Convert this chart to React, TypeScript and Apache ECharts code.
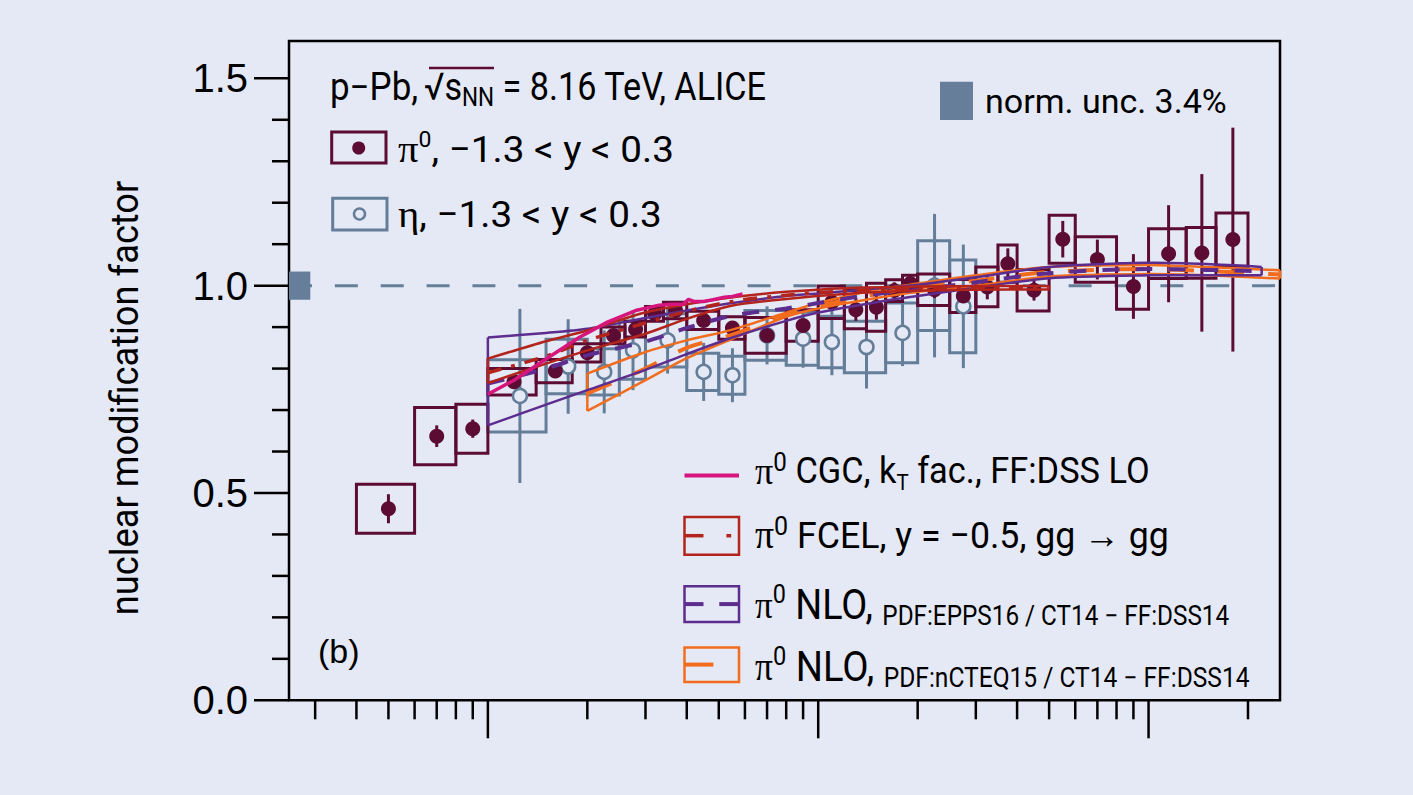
import React, { useEffect, useRef } from "react";
import * as echarts from "echarts";

// ---------- data ----------
const pi0Pt = [0.5, 0.7, 0.9, 1.2, 1.6, 2.0, 2.4, 2.8, 3.2, 3.7, 4.5, 5.5, 7, 9, 11, 13, 15, 17, 19, 22.5, 27.5, 32.5, 37.5, 45, 55, 70, 90, 115, 145, 180];
const pi0PtLow = [0.4, 0.6, 0.8, 1.0, 1.4, 1.8, 2.2, 2.6, 3.0, 3.4, 4, 5, 6, 8, 10, 12, 14, 16, 18, 20, 25, 30, 35, 40, 50, 60, 80, 100, 130, 160];
const pi0PtHigh = [0.6, 0.8, 1.0, 1.4, 1.8, 2.2, 2.6, 3.0, 3.4, 4, 5, 6, 8, 10, 12, 14, 16, 18, 20, 25, 30, 35, 40, 50, 60, 80, 100, 130, 160, 200];
const pi0RpPb = [0.462, 0.637, 0.655, 0.768, 0.794, 0.838, 0.88, 0.895, 0.932, 0.94, 0.916, 0.898, 0.88, 0.904, 0.96, 0.942, 0.948, 0.988, 1.005, 0.99, 0.975, 0.997, 1.053, 0.989, 1.112, 1.063, 0.998, 1.077, 1.079, 1.111];
const pi0Stat = [0.035, 0.026, 0.022, 0.008, 0.008, 0.008, 0.008, 0.008, 0.008, 0.008, 0.009, 0.01, 0.012, 0.014, 0.016, 0.027, 0.03, 0.02, 0.02, 0.02, 0.022, 0.03, 0.037, 0.025, 0.044, 0.048, 0.078, 0.117, 0.19, 0.27];
const pi0Sys = [0.059, 0.069, 0.059, 0.032, 0.028, 0.022, 0.02, 0.019, 0.018, 0.02, 0.022, 0.027, 0.043, 0.038, 0.039, 0.046, 0.058, 0.026, 0.02, 0.038, 0.04, 0.048, 0.045, 0.05, 0.058, 0.055, 0.055, 0.06, 0.061, 0.064];

const etaPt = [1.25, 1.75, 2.25, 2.75, 3.5, 4.5, 5.5, 7, 9, 11, 14, 18, 22.5, 27.5];
const etaPtLow = [1.0, 1.5, 2.0, 2.5, 3.0, 4, 5, 6, 8, 10, 12, 16, 20, 25];
const etaPtHigh = [1.5, 2.0, 2.5, 3.0, 4.0, 5, 6, 8, 10, 12, 16, 20, 25, 30];
const etaRpPb = [0.734, 0.805, 0.792, 0.844, 0.868, 0.792, 0.784, 0.88, 0.872, 0.864, 0.852, 0.886, 1.0, 0.95];
const etaStat = [0.21, 0.114, 0.1, 0.096, 0.08, 0.07, 0.065, 0.07, 0.07, 0.08, 0.1, 0.08, 0.173, 0.149];
const etaSys = [0.087, 0.066, 0.056, 0.07, 0.064, 0.045, 0.046, 0.06, 0.064, 0.062, 0.062, 0.072, 0.108, 0.112];

const cgcPt = [1.0, 1.2, 1.5, 1.9, 2.3, 2.8, 3.3, 3.6, 3.9, 4.05, 4.2, 4.5, 4.8, 5.2, 5.5, 5.9];
const cgcVal = [0.738, 0.772, 0.823, 0.876, 0.912, 0.94, 0.953, 0.955, 0.955, 0.967, 0.962, 0.962, 0.966, 0.972, 0.974, 0.98];

const fcelPt = [1.0, 1.5, 2.0, 3.0, 4.0, 5.5, 8, 12, 20, 30, 50];
const fcelHigh = [0.824, 0.866, 0.892, 0.936, 0.955, 0.972, 0.985, 0.994, 0.998, 0.999, 0.999];
const fcelLow = [0.765, 0.812, 0.844, 0.884, 0.92, 0.952, 0.968, 0.98, 0.988, 0.99, 0.991];
const fcelMid = [0.79, 0.83, 0.868, 0.91, 0.938, 0.962, 0.977, 0.987, 0.993, 0.994, 0.995];

const eppsPt = [1.0, 1.5, 2.0, 3.0, 4.0, 5.5, 8, 10, 15, 20, 30, 50, 100, 150, 220];
const eppsHigh = [0.875, 0.886, 0.896, 0.922, 0.94, 0.958, 0.975, 0.981, 0.993, 1.002, 1.02, 1.045, 1.055, 1.052, 1.045];
const eppsLow = [0.663, 0.713, 0.748, 0.797, 0.835, 0.875, 0.915, 0.935, 0.96, 0.975, 0.995, 1.018, 1.025, 1.025, 1.025];
const eppsMid = [0.764, 0.8, 0.832, 0.865, 0.898, 0.928, 0.945, 0.958, 0.98, 0.99, 1.008, 1.03, 1.04, 1.038, 1.035];

const ncteqPt = [2.0, 3.0, 4.0, 5.5, 8, 10, 15, 20, 30, 50, 100, 150, 250];
const ncteqHigh = [0.788, 0.84, 0.868, 0.894, 0.935, 0.958, 0.99, 1.005, 1.025, 1.045, 1.05, 1.045, 1.037];
const ncteqLow = [0.698, 0.772, 0.825, 0.872, 0.925, 0.945, 0.97, 0.985, 1.0, 1.022, 1.028, 1.025, 1.017];
const ncteqMid = [0.74, 0.8, 0.85, 0.882, 0.93, 0.951, 0.98, 0.995, 1.012, 1.033, 1.04, 1.035, 1.027];

const normUnc = 0.034;
const normBoxPt = [0.25, 0.29];
const unityPt = [0.25, 250];

const xMajorTicks = [1, 10, 100];
const xMinorTicks = [0.3, 0.4, 0.5, 0.6, 0.7, 0.8, 0.9, 2, 3, 4, 5, 6, 7, 8, 9, 20, 30, 40, 50, 60, 70, 80, 90, 200];
const yMajorTicks = [0, 0.5, 1.0, 1.5];
const yMinorTicks = [0.1, 0.2, 0.3, 0.4, 0.6, 0.7, 0.8, 0.9, 1.1, 1.2, 1.3, 1.4];

// ---------- styles ----------
const BG = "#e5e9f5";
const MAROON = "#5c0c33";
const GRAY = "#647e99";
const MAGENTA = "#d6157d";
const RED = "#b3241c";
const PURPLE = "#5d2c8f";
const ORANGE = "#f26c1e";
const NORM = "#677e9a";
const F = "Roboto, sans-serif";
const FG = "'Liberation Serif', 'DejaVu Serif', serif";
const FA = "'Liberation Sans', Arial, sans-serif";

function boxSeries(lo: number[], hi: number[], val: number[], sys: number[], color: string, z: number) {
  return {
    type: "custom", silent: true, z, clip: false,
    encode: { x: [0, 1], y: 2 },
    data: lo.map((l, i) => [l, hi[i], val[i], sys[i]]),
    renderItem: (_p: any, api: any) => {
      const a = api.coord([api.value(0), api.value(2) + api.value(3)]);
      const b = api.coord([api.value(1), api.value(2) - api.value(3)]);
      return { type: "rect", shape: { x: a[0], y: a[1], width: b[0] - a[0], height: b[1] - a[1] }, style: { fill: "none", stroke: color, lineWidth: 3 } };
    },
  };
}

function barSeries(pt: number[], val: number[], err: number[], color: string, z: number) {
  return {
    type: "custom", silent: true, z, clip: false,
    encode: { x: 0, y: 1 },
    data: pt.map((p, i) => [p, val[i], err[i]]),
    renderItem: (_p: any, api: any) => {
      const a = api.coord([api.value(0), api.value(1) + api.value(2)]);
      const b = api.coord([api.value(0), api.value(1) - api.value(2)]);
      return { type: "line", shape: { x1: a[0], y1: a[1], x2: b[0], y2: b[1] }, style: { stroke: color, lineWidth: 3 } };
    },
  };
}

function bandSeries(pt: number[], lo: number[], hi: number[], color: string, z: number) {
  return {
    type: "custom", silent: true, z, clip: false,
    encode: { x: 0, y: [1, 2] },
    data: pt.map((p, i) => [p, lo[i], hi[i]]),
    renderItem: (params: any, api: any) => {
      if (params.dataIndex !== 0) return null;
      const up = pt.map((p, i) => api.coord([p, hi[i]]));
      const dn = pt.map((p, i) => api.coord([p, lo[i]]));
      const st = { stroke: color, lineWidth: 2.5, fill: "none" };
      const n = pt.length - 1;
      return {
        type: "group",
        children: [
          { type: "polyline", shape: { points: up, smooth: 0.25 }, style: st },
          { type: "polyline", shape: { points: dn, smooth: 0.25 }, style: st },
          { type: "line", shape: { x1: up[0][0], y1: up[0][1], x2: dn[0][0], y2: dn[0][1] }, style: st },
          { type: "line", shape: { x1: up[n][0], y1: up[n][1], x2: dn[n][0], y2: dn[n][1] }, style: st },
        ],
      };
    },
  };
}

function lineSeries(pt: number[], val: number[], color: string, width: number, type: any, z: number, smooth: any) {
  return {
    type: "line", silent: true, z, symbol: "none", smooth,
    data: pt.map((p, i) => [p, val[i]]),
    lineStyle: { color, width, type, cap: "butt", opacity: 1 },
  };
}

function xTickSeries(ticks: number[], len: number) {
  return {
    type: "custom", silent: true, z: 20, clip: false,
    encode: { x: 0, y: 1 },
    data: ticks.map((t) => [t, 0]),
    renderItem: (_p: any, api: any) => {
      const p = api.coord([api.value(0), 0]);
      return { type: "line", shape: { x1: p[0], y1: p[1], x2: p[0], y2: p[1] + len }, style: { stroke: "#000", lineWidth: 2.5 } };
    },
  };
}

function yTickSeries(ticks: number[], len: number) {
  return {
    type: "custom", silent: true, z: 20, clip: false,
    encode: { x: 0, y: 1 },
    data: ticks.map((t) => [0.25, t]),
    renderItem: (_p: any, api: any) => {
      const p = api.coord([0.25, api.value(1)]);
      return { type: "line", shape: { x1: p[0] - len, y1: p[1], x2: p[0], y2: p[1] }, style: { stroke: "#000", lineWidth: 2.5 } };
    },
  };
}

const richTop = {
  t: { fontSize: 37, fontFamily: F, lineHeight: 42, fill: "#000", color: "#000" },
  g: { fontSize: 39, fontFamily: FG, lineHeight: 42, fill: "#000", color: "#000" },
  sup: { fontSize: 22, fontFamily: F, lineHeight: 32, verticalAlign: "top", fill: "#000", color: "#000" },
};
const richHead = {
  t: { fontSize: 38, fontFamily: F, lineHeight: 46, fill: "#000", color: "#000" },
  sub: { fontSize: 25, fontFamily: F, lineHeight: 14, verticalAlign: "bottom", fill: "#000", color: "#000" },
};
const richLeg = {
  t: { fontSize: 37, fontFamily: F, lineHeight: 44, fill: "#000", color: "#000" },
  T: { fontSize: 42, fontFamily: F, lineHeight: 48, fill: "#000", color: "#000" },
  g: { fontSize: 39, fontFamily: FG, lineHeight: 44, fill: "#000", color: "#000" },
  sup: { fontSize: 26, fontFamily: F, lineHeight: 34, verticalAlign: "top", fill: "#000", color: "#000" },
  sub: { fontSize: 22, fontFamily: F, lineHeight: 12, verticalAlign: "bottom", fill: "#000", color: "#000" },
  s: { fontSize: 27, fontFamily: F, lineHeight: 30, verticalAlign: "bottom", fill: "#000", color: "#000" },
};

function txt(x: number, y: number, text: string, rich: any, scaleX = 1) {
  return { type: "text", x, y, scaleX, z: 100, silent: true, style: { text, rich, textVerticalAlign: "middle", verticalAlign: "middle", fill: "#000" } };
}

export default function App() {
  const ref = useRef<HTMLDivElement>(null);
  useEffect(() => {
    const chart = echarts.init(ref.current!, null, { renderer: "svg", width: 1413, height: 795 });
    const option: any = {
      animation: false,
      backgroundColor: BG,
      grid: { left: 289, top: 41, right: 133, bottom: 94.7, show: true, borderColor: "#000", borderWidth: 2.5, containLabel: false },
      xAxis: {
        type: "log", logBase: 10, min: 0.25, max: 250,
        axisLine: { show: false }, axisTick: { show: false }, axisLabel: { show: false }, splitLine: { show: false }, minorTick: { show: false },
      },
      yAxis: {
        type: "value", min: 0, max: 1.59, interval: 0.5,
        axisLine: { show: false }, axisTick: { show: false }, splitLine: { show: false },
        axisLabel: {
          fontSize: 40, fontFamily: FA, color: "#000", margin: 41,
          formatter: (v: number) => (yMajorTicks.some((t) => Math.abs(t - v) < 1e-6) ? v.toFixed(1) : ""),
        },
      },
      series: [
        lineSeries(unityPt, [1, 1], "#667f99", 3, [23, 22.86], 1, false),
        {
          type: "custom", silent: true, z: 1, clip: false,
          encode: { x: [0, 1], y: 2 },
          data: [[normBoxPt[0], normBoxPt[1], 1, normUnc]],
          renderItem: (_p: any, api: any) => {
            const a = api.coord([api.value(0), api.value(2) + api.value(3)]);
            const b = api.coord([api.value(1), api.value(2) - api.value(3)]);
            return { type: "rect", shape: { x: a[0], y: a[1], width: b[0] - a[0], height: b[1] - a[1] }, style: { fill: NORM } };
          },
        },
        boxSeries(etaPtLow, etaPtHigh, etaRpPb, etaSys, GRAY, 2),
        barSeries(etaPt, etaRpPb, etaStat, GRAY, 2),
        {
          type: "scatter", silent: true, z: 3, symbol: "circle", symbolSize: 14,
          data: etaPt.map((p, i) => [p, etaRpPb[i]]),
          itemStyle: { color: BG, borderColor: GRAY, borderWidth: 2.5, opacity: 1 },
        },
        boxSeries(pi0PtLow, pi0PtHigh, pi0RpPb, pi0Sys, MAROON, 3),
        barSeries(pi0Pt, pi0RpPb, pi0Stat, MAROON, 3),
        {
          type: "scatter", silent: true, z: 4, symbol: "circle", symbolSize: 15,
          data: pi0Pt.map((p, i) => [p, pi0RpPb[i]]),
          itemStyle: { color: MAROON, opacity: 1 },
        },
        bandSeries(ncteqPt, ncteqLow, ncteqHigh, ORANGE, 5),
        lineSeries(ncteqPt, ncteqMid, ORANGE, 4, [26, 24], 5, 0.3),
        bandSeries(eppsPt, eppsLow, eppsHigh, PURPLE, 6),
        lineSeries(eppsPt, eppsMid, PURPLE, 4, [17, 16], 6, 0.3),
        bandSeries(fcelPt, fcelLow, fcelHigh, RED, 7),
        lineSeries(fcelPt, fcelMid, RED, 3.5, [14, 10, 4, 10], 7, 0.3),
        lineSeries(cgcPt, cgcVal, MAGENTA, 3.5, "solid", 8, false),
        xTickSeries(xMajorTicks, 38),
        xTickSeries(xMinorTicks, 19),
        yTickSeries(yMajorTicks, 35),
        yTickSeries(yMinorTicks, 17),
      ],
      graphic: [
        {
          type: "text", x: 125, y: 398, rotation: Math.PI / 2, scaleX: 0.93, z: 100, silent: true,
          style: { text: "nuclear modification factor", fontSize: 39, fontFamily: F, fill: "#000", textAlign: "center", textVerticalAlign: "middle", verticalAlign: "middle" },
        },
        txt(330, 87, "{t|p\u2212Pb,}", richHead, 0.92),
        txt(424, 87, "{t|\u221A}{t|s}{sub|NN}{t| = 8.16 TeV, ALICE}", richHead, 0.9),
        { type: "line", z: 100, silent: true, shape: { x1: 429, y1: 68, x2: 494, y2: 68 }, style: { stroke: MAROON, lineWidth: 2.5 } },
        { type: "rect", z: 100, silent: true, shape: { x: 331.7, y: 132, width: 54.3, height: 31 }, style: { fill: "none", stroke: MAROON, lineWidth: 3 } },
        { type: "circle", z: 101, silent: true, shape: { cx: 358.7, cy: 148, r: 6.5 }, style: { fill: MAROON } },
        txt(398, 149, "{g|\u03C0}{sup|0}{t|, \u22121.3 < y < 0.3}", richTop, 1.045),
        { type: "rect", z: 100, silent: true, shape: { x: 332.7, y: 198.3, width: 54.3, height: 31.7 }, style: { fill: "none", stroke: GRAY, lineWidth: 3 } },
        { type: "circle", z: 101, silent: true, shape: { cx: 359.5, cy: 214, r: 5.5 }, style: { fill: BG, stroke: GRAY, lineWidth: 2.5 } },
        txt(398, 214, "{g|\u03B7}{t|, \u22121.3 < y < 0.3}", richTop, 1.045),
        { type: "rect", z: 100, silent: true, shape: { x: 940, y: 81.7, width: 33, height: 38.3 }, style: { fill: NORM } },
        { type: "text", x: 985, y: 101, z: 100, silent: true, style: { text: "norm. unc. 3.4%", fontSize: 34, fontFamily: F, fill: "#000", textVerticalAlign: "middle", verticalAlign: "middle" } },
        { type: "text", x: 318, y: 651, z: 100, silent: true, style: { text: "(b)", fontSize: 34, fontFamily: FA, fill: "#000", textVerticalAlign: "middle", verticalAlign: "middle" } },
        // bottom-right legend
        { type: "line", z: 100, silent: true, shape: { x1: 684.5, y1: 475.6, x2: 739, y2: 475.6 }, style: { stroke: MAGENTA, lineWidth: 4 } },
        txt(755, 471, "{g|\u03C0}{sup|0}{t| CGC, k}{sub|T}{t| fac., FF:DSS LO}", richLeg, 0.93),
        { type: "rect", z: 100, silent: true, shape: { x: 684.5, y: 517.1, width: 54.5, height: 37.6 }, style: { fill: "none", stroke: RED, lineWidth: 2.5 } },
        { type: "line", z: 100, silent: true, shape: { x1: 684.5, y1: 535.7, x2: 703.5, y2: 535.7 }, style: { stroke: RED, lineWidth: 3.5 } },
        { type: "line", z: 100, silent: true, shape: { x1: 726.4, y1: 535.7, x2: 731.2, y2: 535.7 }, style: { stroke: RED, lineWidth: 3.5 } },
        txt(755, 535, "{g|\u03C0}{sup|0}{t| FCEL, y = \u22120.5, gg \u2192 gg}", richLeg, 0.965),
        { type: "rect", z: 100, silent: true, shape: { x: 684.5, y: 586.3, width: 54.5, height: 35.6 }, style: { fill: "none", stroke: PURPLE, lineWidth: 2.5 } },
        { type: "line", z: 100, silent: true, shape: { x1: 684.5, y1: 604.1, x2: 703.5, y2: 604.1 }, style: { stroke: PURPLE, lineWidth: 4 } },
        { type: "line", z: 100, silent: true, shape: { x1: 719.3, y1: 604.1, x2: 739, y2: 604.1 }, style: { stroke: PURPLE, lineWidth: 4 } },
        txt(755, 605, "{g|\u03C0}{sup|0}{T| NLO, }{s|PDF:EPPS16 / CT14 \u2212 FF:DSS14}", richLeg, 0.9),
        { type: "rect", z: 100, silent: true, shape: { x: 684.5, y: 647.6, width: 54.5, height: 34.4 }, style: { fill: "none", stroke: ORANGE, lineWidth: 2.5 } },
        { type: "line", z: 100, silent: true, shape: { x1: 684.5, y1: 664.6, x2: 713.4, y2: 664.6 }, style: { stroke: ORANGE, lineWidth: 4 } },
        txt(755, 667, "{g|\u03C0}{sup|0}{T| NLO, }{s|PDF:nCTEQ15 / CT14 \u2212 FF:DSS14}", richLeg, 0.91),
      ],
    };
    chart.setOption(option);
    return () => chart.dispose();
  }, []);
  return <div ref={ref} style={{ position: "fixed", left: 0, top: 0, width: 1413, height: 795, background: BG }} />;
}
